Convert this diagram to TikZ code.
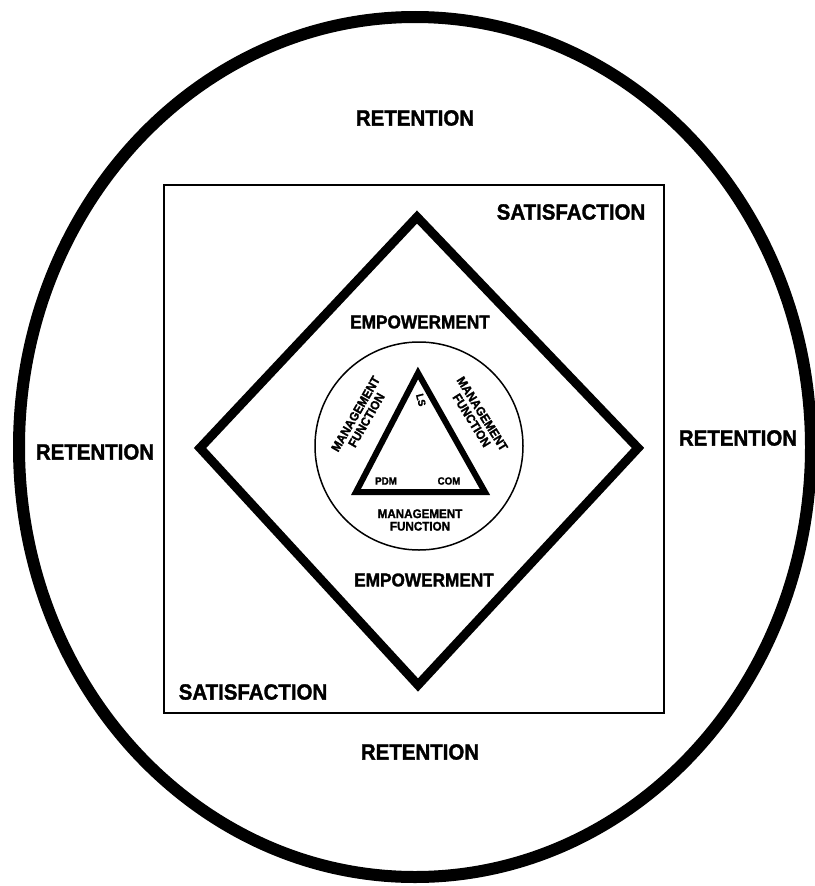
\documentclass[tikz,border=0pt]{standalone}
\usepackage{fontspec}
\newfontfamily\hv[FakeStretch=0.93,FakeBold=1.6]{Liberation Sans}
\begin{document}
\begin{tikzpicture}[x=1pt,y=-1pt,
  big/.style={inner sep=0pt,font=\hv\bfseries\fontsize{22}{24}\selectfont},
  mid/.style={inner sep=0pt,font=\hv\bfseries\fontsize{18.5}{20}\selectfont},
  small/.style={inner sep=0pt,align=center,font=\hv\bfseries\fontsize{12.5}{12.5}\selectfont},
  tiny/.style={inner sep=0pt,font=\hv\bfseries\fontsize{10.5}{11}\selectfont},
  thin/.style={line width=1.5pt},
  thick8/.style={line width=9pt,line join=miter},
]
\useasboundingbox (0,0) rectangle (814,886);
% outer ellipse
\draw[line width=12pt] (415,447) ellipse [x radius=396pt, y radius=430pt];
% rectangle
\draw[thin] (164,185) rectangle (664,713);
% diamond
\coordinate (dT) at (417,217);
\coordinate (dR) at (638,448);
\coordinate (dB) at (418,685);
\coordinate (dL) at (200,448);
\draw[thick8] (dT) -- (dR) -- (dB) -- (dL) -- cycle;
% inner circle
\draw[thin] (419,446) circle [radius=104pt];
% triangle
\coordinate (tA) at (418,373);
\coordinate (tL) at (356,492);
\coordinate (tR) at (485,492);
\draw[line width=6pt,line join=miter] (tA) -- (tR) -- (tL) -- cycle;
% texts
\node[big] (r1) at (415,118) {RETENTION};
\node[big] (r2) at (420,752) {RETENTION};
\node[big] (r3) at (95,452) {RETENTION};
\node[big] (r4) at (738,438) {RETENTION};
\node[big] (s1) at (571,212) {SATISFACTION};
\node[big] (s2) at (253,692) {SATISFACTION};
\node[mid] (e1) at (420,322) {EMPOWERMENT};
\node[mid] (e2) at (424,580) {EMPOWERMENT};
\node[small] (m1) at (420,520) {MANAGEMENT\\FUNCTION};
\node[small,rotate=60] (m2) at (361,417) {MANAGEMENT\\FUNCTION};
\node[small,rotate=-58] (m3) at (477,417) {MANAGEMENT\\FUNCTION};
\node[tiny] (pdm) at (386,481) {PDM};
\node[tiny] (com) at (449,481) {COM};
\node[tiny,rotate=-75] (ls) at (421,400) {LS};
\end{tikzpicture}
\end{document}
